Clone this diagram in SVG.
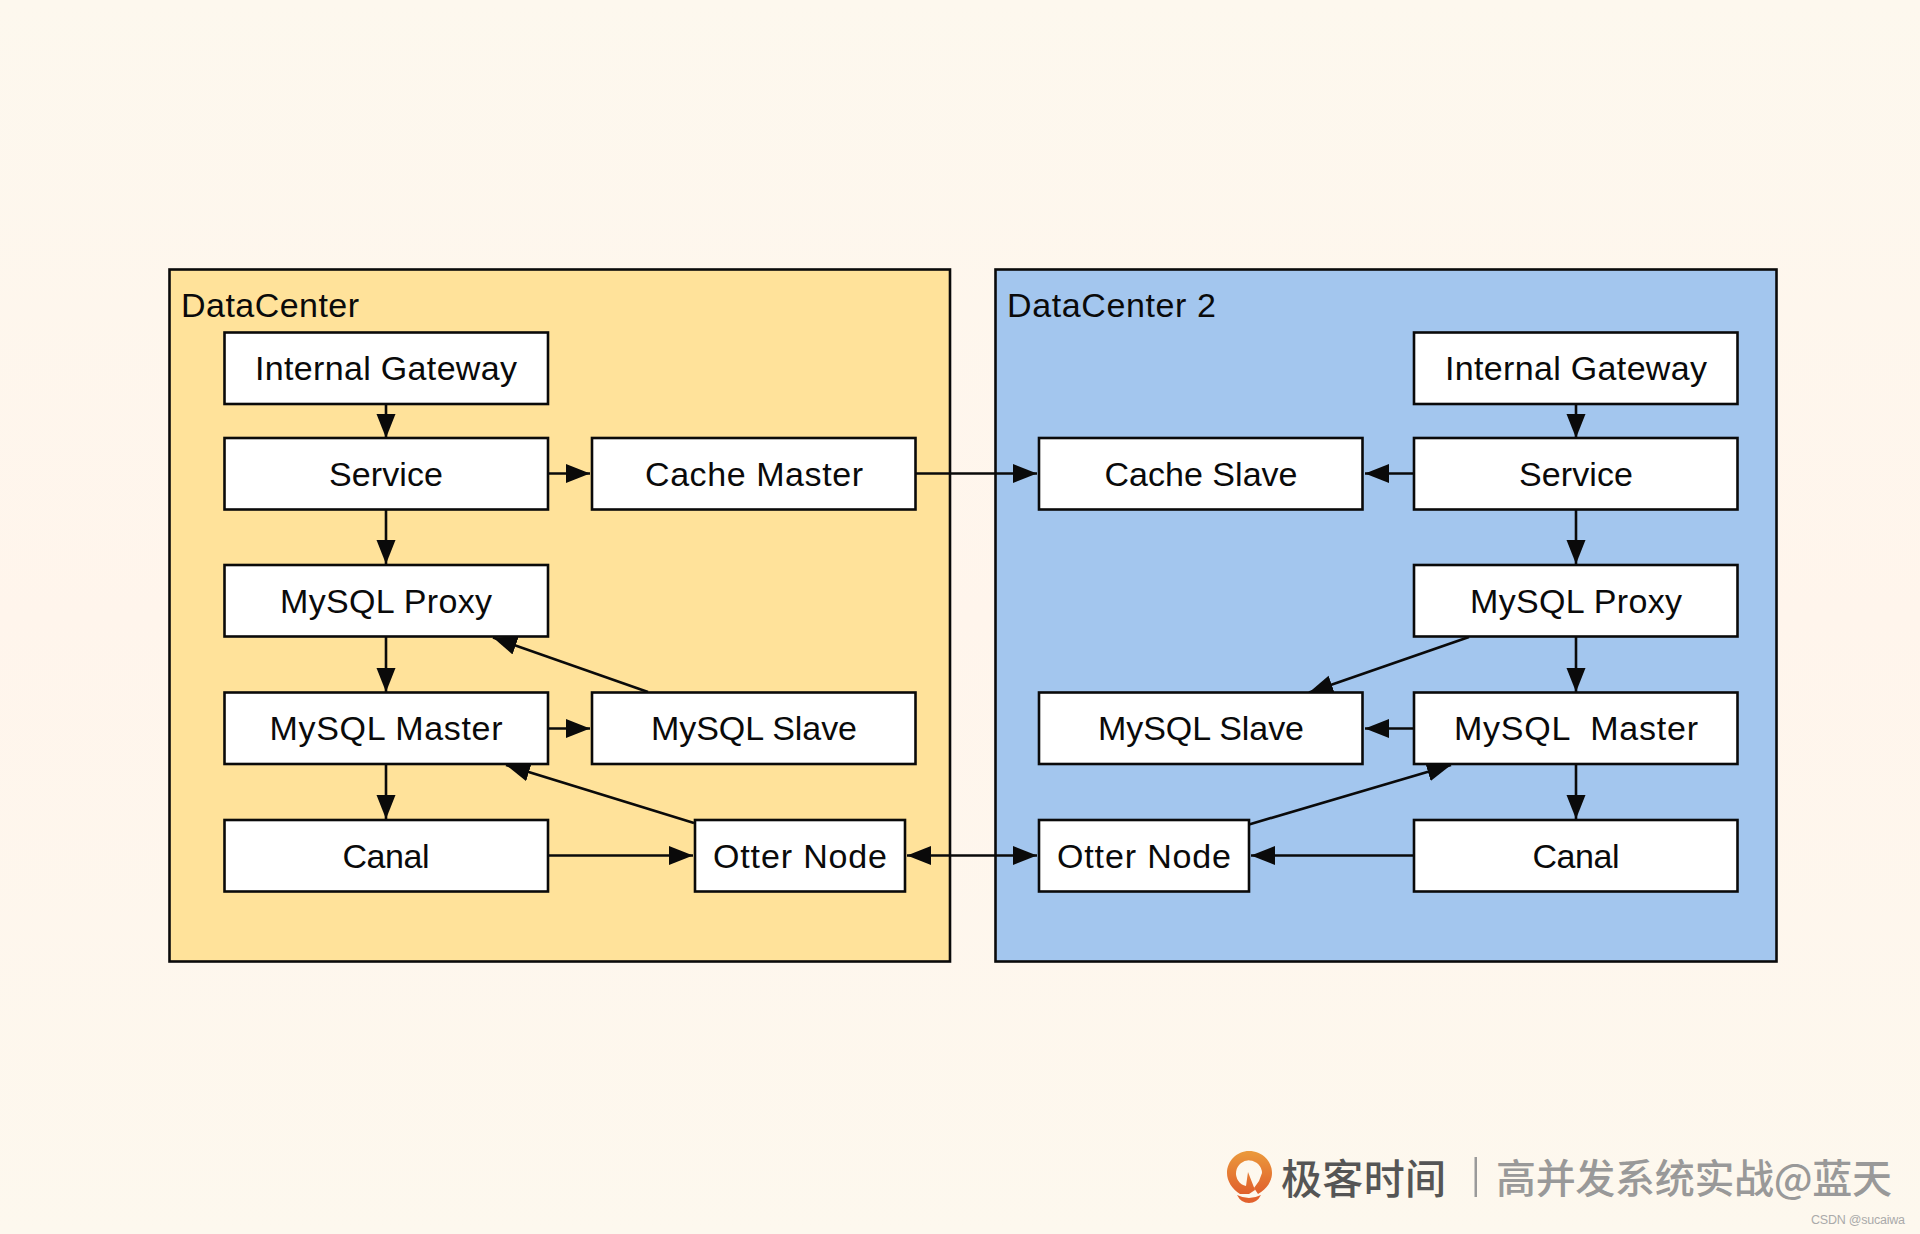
<svg xmlns="http://www.w3.org/2000/svg" width="1920" height="1234" viewBox="0 0 1920 1234">
<style>
.dc{stroke:#0a0a0a;stroke-width:2.6}
.box{fill:#fff;stroke:#0a0a0a;stroke-width:2.6}
.t{font-family:"Liberation Sans",Arial,sans-serif;font-size:34px;fill:#0a0a0a;white-space:pre}
.m{text-anchor:middle}
.c{fill:none;stroke:#0a0a0a;stroke-width:2.6}
.e{marker-end:url(#ah)}
.s{marker-start:url(#as)}
</style>
<defs>
<marker id="ah" markerUnits="userSpaceOnUse" markerWidth="25" markerHeight="20" refX="24" refY="10" orient="auto"><path d="M0 0.500L24 10L0 19.500z" fill="#0a0a0a"/></marker>
<marker id="as" markerUnits="userSpaceOnUse" markerWidth="25" markerHeight="20" refX="0" refY="10" orient="auto"><path d="M24 0.500L0 10L24 19.500z" fill="#0a0a0a"/></marker>
<linearGradient id="bg" x1="0" y1="0" x2="0" y2="1"><stop offset="0" stop-color="#fdf8ee"/><stop offset="0.5" stop-color="#fff5ec"/><stop offset="1" stop-color="#fdf8ee"/></linearGradient>
<linearGradient id="or" x1="0" y1="0" x2="0" y2="1"><stop offset="0" stop-color="#eb9a3c"/><stop offset="1" stop-color="#e0602c"/></linearGradient>
</defs>
<rect width="1920" height="1234" fill="url(#bg)"/>
<g id="datacenter-1"><rect class="dc" x="169.500" y="269.500" width="780.500" height="692" fill="#ffe29a"/><text class="t" x="181" y="317" textLength="178">DataCenter</text></g>
<g id="datacenter-2"><rect class="dc" x="995.500" y="269.500" width="781" height="692" fill="#a3c6ee"/><text class="t" x="1007" y="317" textLength="209">DataCenter 2</text></g>
<g id="connectors">
<path class="c e" d="M386 404V438"/>
<path class="c e" d="M386 510V564"/>
<path class="c e" d="M386 637V692"/>
<path class="c e" d="M386 765V819"/>
<path class="c e" d="M548 473.500H590"/>
<path class="c e" d="M916 473.500H1037"/>
<path class="c e" d="M548 728.500H590"/>
<path class="c e" d="M548 855.500H693"/>
<path class="c e s" d="M907 855.500H1037"/>
<path class="c e" d="M648 692L493 637.500"/>
<path class="c e" d="M694 823L506 765"/>
<path class="c e" d="M1576 404V438"/>
<path class="c e" d="M1576 510V564"/>
<path class="c e" d="M1576 637V692"/>
<path class="c e" d="M1576 765V819"/>
<path class="c e" d="M1414 473.500H1365"/>
<path class="c e" d="M1414 728.500H1365"/>
<path class="c e" d="M1414 855.500H1251"/>
<path class="c e" d="M1469 637L1309 692.500"/>
<path class="c e" d="M1249 824.500L1451 765"/>
</g>
<g id="l-gateway"><rect class="box" x="224.500" y="332.500" width="323.500" height="71.500"/><text class="t m" x="386" y="379.500" textLength="262">Internal Gateway</text></g>
<g id="l-service"><rect class="box" x="224.500" y="438" width="323.500" height="71.500"/><text class="t m" x="386" y="485.500" textLength="114">Service</text></g>
<g id="l-cache-master"><rect class="box" x="592" y="438" width="323.500" height="71.500"/><text class="t m" x="754" y="485.500" textLength="218">Cache Master</text></g>
<g id="l-proxy"><rect class="box" x="224.500" y="565" width="323.500" height="71.500"/><text class="t m" x="386" y="612.500" textLength="212">MySQL Proxy</text></g>
<g id="l-master"><rect class="box" x="224.500" y="692.500" width="323.500" height="71.500"/><text class="t m" x="386" y="739.500" textLength="233">MySQL Master</text></g>
<g id="l-slave"><rect class="box" x="592" y="692.500" width="323.500" height="71.500"/><text class="t m" x="754" y="739.500" textLength="206">MySQL Slave</text></g>
<g id="l-canal"><rect class="box" x="224.500" y="820" width="323.500" height="71.500"/><text class="t m" x="386" y="867.500" textLength="87">Canal</text></g>
<g id="l-otter"><rect class="box" x="695" y="820" width="210" height="71.500"/><text class="t m" x="800" y="867.500" textLength="174">Otter Node</text></g>
<g id="r-gateway"><rect class="box" x="1414" y="332.500" width="323.500" height="71.500"/><text class="t m" x="1576" y="379.500" textLength="262">Internal Gateway</text></g>
<g id="r-service"><rect class="box" x="1414" y="438" width="323.500" height="71.500"/><text class="t m" x="1576" y="485.500" textLength="114">Service</text></g>
<g id="r-cache-slave"><rect class="box" x="1039" y="438" width="323.500" height="71.500"/><text class="t m" x="1201" y="485.500" textLength="193">Cache Slave</text></g>
<g id="r-proxy"><rect class="box" x="1414" y="565" width="323.500" height="71.500"/><text class="t m" x="1576" y="612.500" textLength="212">MySQL Proxy</text></g>
<g id="r-master"><rect class="box" x="1414" y="692.500" width="323.500" height="71.500"/><text class="t m" x="1576" y="739.500" textLength="244">MySQL  Master</text></g>
<g id="r-slave"><rect class="box" x="1039" y="692.500" width="323.500" height="71.500"/><text class="t m" x="1201" y="739.500" textLength="206">MySQL Slave</text></g>
<g id="r-canal"><rect class="box" x="1414" y="820" width="323.500" height="71.500"/><text class="t m" x="1576" y="867.500" textLength="87">Canal</text></g>
<g id="r-otter"><rect class="box" x="1039" y="820" width="210" height="71.500"/><text class="t m" x="1144" y="867.500" textLength="174">Otter Node</text></g>
<g id="watermark">
<path fill="url(#or)" fill-rule="evenodd" d="M1249 1151C1262 1151 1272 1161 1272 1173C1272 1181 1267 1189 1258 1194L1254 1188L1259 1181L1262 1173A13 13 0 1 0 1246 1186L1248 1172L1255 1190L1249 1194L1240 1194C1232 1189 1227 1181 1227 1173C1227 1161 1237 1151 1249 1151Z"/>
<path fill="#e2622e" d="M1237 1195Q1249 1201 1261 1195Q1257 1203 1249 1203Q1241 1203 1237 1195Z"/>
<text x="1281" y="1194" font-family="'Noto Sans CJK SC',sans-serif" font-size="41" font-weight="500" fill="#555" textLength="165">极客时间</text>
<rect x="1474.500" y="1157" width="2.500" height="40" fill="#9a9a9a"/>
<text x="1496" y="1193" font-family="'Noto Sans CJK SC',sans-serif" font-size="40" font-weight="500" fill="#999" textLength="396">高并发系统实战@蓝天</text>
<text x="1811" y="1224" font-family="'Liberation Sans',sans-serif" font-size="12.500" fill="#aaa" textLength="94">CSDN @sucaiwa</text>
</g>
</svg>
